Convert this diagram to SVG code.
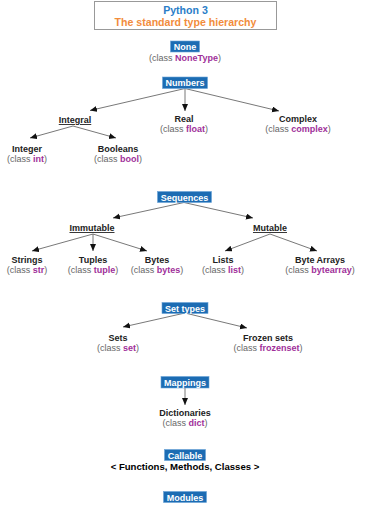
<svg xmlns="http://www.w3.org/2000/svg" width="370" height="523" viewBox="0 0 370 523">
<defs>
<marker id="ah" markerUnits="userSpaceOnUse" markerWidth="8" markerHeight="7" refX="7" refY="3" orient="auto">
<path d="M0,0 L7,3 L0,6 Z" fill="#111"/>
</marker>
<style>
text{font-family:"Liberation Sans",Arial,sans-serif;font-size:9px;text-anchor:middle}
.t1{font-size:10.6px;font-weight:bold;fill:#2a7ec8}
.t2{font-size:10.6px;font-weight:bold;fill:#f28c3c}
.box{fill:#1c6cb3;stroke:#6aa3d8;stroke-width:0.6}
.bl{fill:#fff;font-weight:bold}
.lb{fill:#222;font-weight:bold}
.ul{text-decoration:underline}
.cl{fill:#666}
.cn{fill:#a0309a;font-weight:bold}
.c{stroke:#555;stroke-width:0.8;fill:none;marker-end:url(#ah)}
</style>
</defs>
<g id="title">
<rect x="94.5" y="1.5" width="182" height="28" fill="#fff" stroke="#333" stroke-width="1" stroke-dasharray="1,1"/>
<text class="t1" x="185.5" y="14">Python 3</text>
<text class="t2" x="185.5" y="25.5">The standard type hierarchy</text>
</g>
<g id="connectors">
<line class="c" x1="185" y1="88.5" x2="90" y2="110.5"/>
<line class="c" x1="185" y1="88.5" x2="185" y2="111"/>
<line class="c" x1="185" y1="88.5" x2="279" y2="111"/>
<line class="c" x1="73" y1="126" x2="30" y2="138"/>
<line class="c" x1="73" y1="126" x2="116" y2="138"/>
<line class="c" x1="184" y1="202.5" x2="113" y2="218"/>
<line class="c" x1="184" y1="202.5" x2="253" y2="218"/>
<line class="c" x1="93" y1="234" x2="32" y2="251"/>
<line class="c" x1="93" y1="234" x2="93" y2="251"/>
<line class="c" x1="93" y1="234" x2="147" y2="251"/>
<line class="c" x1="270" y1="234" x2="225" y2="251"/>
<line class="c" x1="270" y1="234" x2="317" y2="251"/>
<line class="c" x1="185" y1="313" x2="123" y2="327"/>
<line class="c" x1="185" y1="313" x2="247" y2="328"/>
<line class="c" x1="185" y1="388" x2="185" y2="405"/>
</g>
<g id="none">
<rect class="box" x="170.5" y="41" width="29" height="11"/>
<text class="bl" x="185" y="50">None</text>
<text class="cl" x="185" y="61">(class <tspan class="cn">NoneType</tspan>)</text>
</g>
<g id="numbers">
<rect class="box" x="162.5" y="77" width="45" height="11.5"/>
<text class="bl" x="185" y="86">Numbers</text>
</g>
<g id="integral">
<text class="lb ul" x="75" y="123">Integral</text>
</g>
<g id="real">
<text class="lb" x="184" y="122">Real</text>
<text class="cl" x="184" y="132">(class <tspan class="cn">float</tspan>)</text>
</g>
<g id="complex">
<text class="lb" x="298" y="122">Complex</text>
<text class="cl" x="298" y="132">(class <tspan class="cn">complex</tspan>)</text>
</g>
<g id="integer">
<text class="lb" x="27" y="152">Integer</text>
<text class="cl" x="27" y="162">(class <tspan class="cn">int</tspan>)</text>
</g>
<g id="booleans">
<text class="lb" x="118" y="152">Booleans</text>
<text class="cl" x="118" y="162">(class <tspan class="cn">bool</tspan>)</text>
</g>
<g id="sequences">
<rect class="box" x="157.5" y="191.5" width="54" height="11"/>
<text class="bl" x="184.5" y="200.5">Sequences</text>
</g>
<g id="immutable">
<text class="lb ul" x="92" y="231">Immutable</text>
</g>
<g id="mutable">
<text class="lb ul" x="270" y="231">Mutable</text>
</g>
<g id="strings">
<text class="lb" x="27" y="263">Strings</text>
<text class="cl" x="27" y="273">(class <tspan class="cn">str</tspan>)</text>
</g>
<g id="tuples">
<text class="lb" x="93" y="263">Tuples</text>
<text class="cl" x="93" y="273">(class <tspan class="cn">tuple</tspan>)</text>
</g>
<g id="bytes">
<text class="lb" x="157" y="263">Bytes</text>
<text class="cl" x="157" y="273">(class <tspan class="cn">bytes</tspan>)</text>
</g>
<g id="lists">
<text class="lb" x="223" y="263">Lists</text>
<text class="cl" x="223" y="273">(class <tspan class="cn">list</tspan>)</text>
</g>
<g id="bytearrays">
<text class="lb" x="320" y="263">Byte Arrays</text>
<text class="cl" x="320" y="273">(class <tspan class="cn">bytearray</tspan>)</text>
</g>
<g id="settypes">
<rect class="box" x="162" y="302.5" width="46" height="11"/>
<text class="bl" x="185" y="311.5">Set types</text>
</g>
<g id="sets">
<text class="lb" x="118" y="341">Sets</text>
<text class="cl" x="118" y="351">(class <tspan class="cn">set</tspan>)</text>
</g>
<g id="frozensets">
<text class="lb" x="268" y="341">Frozen sets</text>
<text class="cl" x="268" y="351">(class <tspan class="cn">frozenset</tspan>)</text>
</g>
<g id="mappings">
<rect class="box" x="161" y="376.5" width="48" height="11.5"/>
<text class="bl" x="185" y="385.5">Mappings</text>
</g>
<g id="dictionaries">
<text class="lb" x="185" y="416">Dictionaries</text>
<text class="cl" x="185" y="426">(class <tspan class="cn">dict</tspan>)</text>
</g>
<g id="callable">
<rect class="box" x="164.5" y="449.5" width="41" height="11"/>
<text class="bl" x="185" y="458.5">Callable</text>
<text style="font-weight:bold;fill:#000;font-size:9.6px" x="185" y="469.5">&lt; Functions, Methods, Classes &gt;</text>
</g>
<g id="modules">
<rect class="box" x="163.5" y="491.5" width="43" height="11"/>
<text class="bl" x="185" y="500.5">Modules</text>
</g>
</svg>
